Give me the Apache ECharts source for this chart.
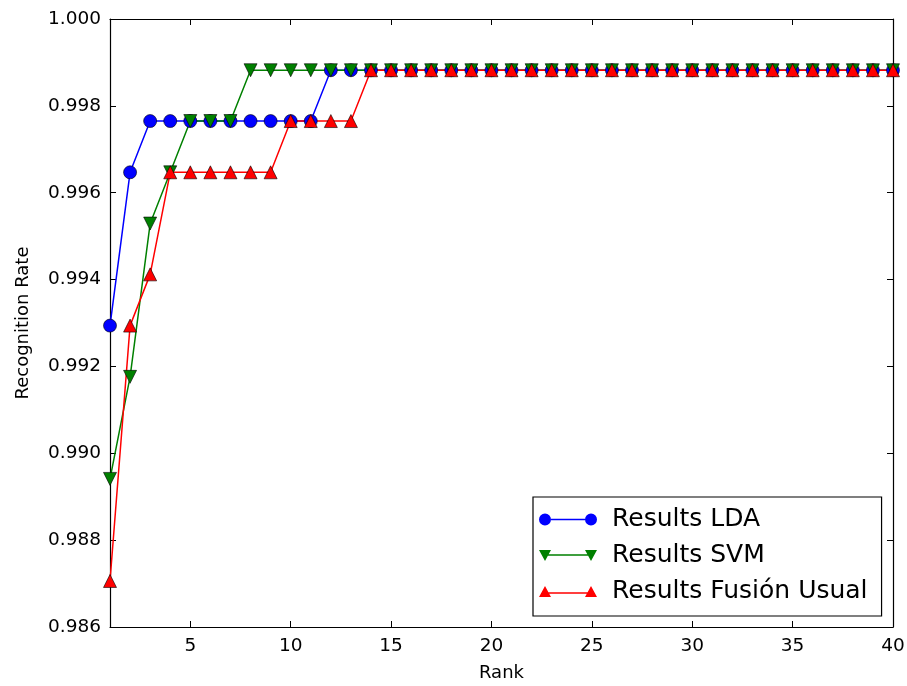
<!DOCTYPE html>
<html>
<head>
<meta charset="utf-8">
<script src="https://cdn.jsdelivr.net/npm/echarts@6/dist/echarts.min.js"></script>
<style>
  html, body { margin: 0; padding: 0; background: #fff; }
  #chart { width: 907px; height: 686px; }
</style>
</head>
<body>
<div id="chart"></div>
<script>
// rank 1..40
let ranks = [1, 2, 3, 4, 5, 6, 7, 8, 9, 10, 11, 12, 13, 14, 15, 16, 17, 18, 19, 20,
    21, 22, 23, 24, 25, 26, 27, 28, 29, 30, 31, 32, 33, 34, 35, 36, 37, 38, 39, 40];

let ldaRates = [0.99294, 0.99647, 0.99765, 0.99765, 0.99765, 0.99765, 0.99765, 0.99765, 0.99765, 0.99765,
    0.99765, 0.99882, 0.99882, 0.99882, 0.99882, 0.99882, 0.99882, 0.99882, 0.99882, 0.99882,
    0.99882, 0.99882, 0.99882, 0.99882, 0.99882, 0.99882, 0.99882, 0.99882, 0.99882, 0.99882,
    0.99882, 0.99882, 0.99882, 0.99882, 0.99882, 0.99882, 0.99882, 0.99882, 0.99882, 0.99882];

let svmRates = [0.98941, 0.99176, 0.99529, 0.99647, 0.99765, 0.99765, 0.99765, 0.99882, 0.99882, 0.99882,
    0.99882, 0.99882, 0.99882, 0.99882, 0.99882, 0.99882, 0.99882, 0.99882, 0.99882, 0.99882,
    0.99882, 0.99882, 0.99882, 0.99882, 0.99882, 0.99882, 0.99882, 0.99882, 0.99882, 0.99882,
    0.99882, 0.99882, 0.99882, 0.99882, 0.99882, 0.99882, 0.99882, 0.99882, 0.99882, 0.99882];

let fusionRates = [0.98706, 0.99294, 0.99412, 0.99647, 0.99647, 0.99647, 0.99647, 0.99647, 0.99647, 0.99765,
    0.99765, 0.99765, 0.99765, 0.99882, 0.99882, 0.99882, 0.99882, 0.99882, 0.99882, 0.99882,
    0.99882, 0.99882, 0.99882, 0.99882, 0.99882, 0.99882, 0.99882, 0.99882, 0.99882, 0.99882,
    0.99882, 0.99882, 0.99882, 0.99882, 0.99882, 0.99882, 0.99882, 0.99882, 0.99882, 0.99882];

let xTicks = [5, 10, 15, 20, 25, 30, 35, 40];
let seriesNames = ['Results LDA', 'Results SVM', 'Results Fusión Usual'];

const FONT = 'DejaVu Sans';

function pairs(values) {
    return ranks.map((r, i) => [r, values[i]]);
}

// legend icons: marker - line - marker
const circleIcon = 'path://M0,6A6,6 0 1,0 12,6A6,6 0 1,0 0,6Z M12,5.3L46,5.3L46,6.7L12,6.7Z M46,6A6,6 0 1,0 58,6A6,6 0 1,0 46,6Z';
const downIcon = 'path://M0,1L12,1L6,12Z M9,5.3L49,5.3L49,6.7L9,6.7Z M46,1L58,1L52,12Z';
const upIcon = 'path://M0,11L6,0L12,11Z M9,6.3L49,6.3L49,7.7L9,7.7Z M46,11L52,0L58,11Z';

function makeSeries(name, values, color, symbol, size) {
    return {
        name: name,
        type: 'line',
        data: pairs(values),
        symbol: symbol,
        symbolSize: size,
        showAllSymbol: true,
        clip: true,
        animation: false,
        lineStyle: {color: color, width: 1.5},
        itemStyle: {color: color, borderColor: '#000', borderWidth: 0.6}
    };
}

let chart = echarts.init(document.getElementById('chart'));

let tickStyle = {show: true, inside: true, length: 6, lineStyle: {color: '#000', width: 1}};
let lineStyle = {show: true, onZero: false, lineStyle: {color: '#000', width: 1.2}};

let option = {
    backgroundColor: '#fff',
    animation: false,
    grid: {left: 110, right: 14, top: 19, bottom: 59, containLabel: false, outerBoundsMode: 'none'},
    legend: {
        orient: 'vertical',
        left: 533,
        top: 497,
        padding: [10, 14, 12, 6],
        itemGap: 11,
        itemWidth: 58,
        itemHeight: 12,
        borderColor: '#000',
        borderWidth: 1.2,
        backgroundColor: '#fff',
        textStyle: {fontFamily: FONT, fontSize: 25, color: '#000', padding: [0, 0, 0, 10]},
        data: [
            {name: seriesNames[0], icon: circleIcon, itemStyle: {color: '#0000ff', borderWidth: 0}},
            {name: seriesNames[1], icon: downIcon, itemStyle: {color: '#008000', borderWidth: 0}},
            {name: seriesNames[2], icon: upIcon, itemStyle: {color: '#ff0000', borderWidth: 0}}
        ]
    },
    xAxis: [
        {
            type: 'value',
            min: 1,
            max: 40,
            position: 'bottom',
            name: 'Rank',
            nameLocation: 'middle',
            nameGap: 37,
            nameTextStyle: {fontFamily: FONT, fontSize: 18, color: '#000'},
            axisLine: lineStyle,
            axisTick: Object.assign({customValues: xTicks}, tickStyle),
            axisLabel: {customValues: xTicks, fontFamily: FONT, fontSize: 18.5, color: '#000', margin: 10},
            splitLine: {show: false}
        },
        {
            type: 'value',
            min: 1,
            max: 40,
            position: 'top',
            axisLine: lineStyle,
            axisTick: Object.assign({customValues: xTicks}, tickStyle),
            axisLabel: {show: false, customValues: xTicks},
            splitLine: {show: false}
        }
    ],
    yAxis: [
        {
            type: 'value',
            min: 0.986,
            max: 1.0,
            interval: 0.002,
            position: 'left',
            name: 'Recognition Rate',
            nameLocation: 'middle',
            nameGap: 78,
            nameTextStyle: {fontFamily: FONT, fontSize: 18, color: '#000'},
            axisLine: lineStyle,
            axisTick: tickStyle,
            axisLabel: {
                fontFamily: FONT, fontSize: 18.5, color: '#000', margin: 9,
                formatter: v => v.toFixed(3)
            },
            splitLine: {show: false}
        },
        {
            type: 'value',
            min: 0.986,
            max: 1.0,
            interval: 0.002,
            position: 'right',
            axisLine: lineStyle,
            axisTick: tickStyle,
            axisLabel: {show: false},
            splitLine: {show: false}
        }
    ],
    series: [
        makeSeries(seriesNames[0], ldaRates, '#0000ff', 'circle', 13),
        makeSeries(seriesNames[1], svmRates, '#008000', 'triangle', 13),
        makeSeries(seriesNames[2], fusionRates, '#ff0000', 'triangle', 13)
    ]
};

// green markers point down
option.series[1].symbolRotate = 180;

chart.setOption(option);
</script>
</body>
</html>
